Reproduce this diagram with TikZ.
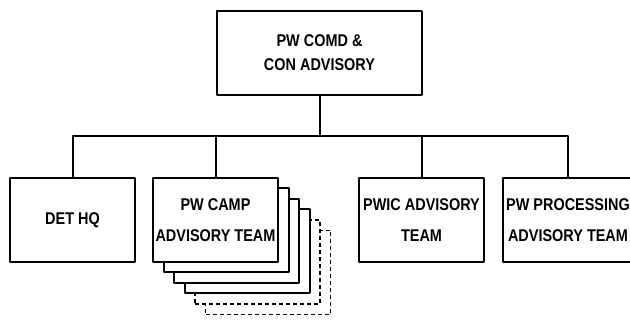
\documentclass[tikz,border=0pt]{standalone}
\usepackage{fontspec}
\setmainfont{Liberation Sans}[FakeStretch=0.85]
\begin{document}
\begin{tikzpicture}[x=1pt,y=-1pt,
  line width=2pt, line join=round,
  box/.style={draw, fill=white, minimum width=125pt, minimum height=84pt,
    inner sep=0pt, align=center, font=\fontsize{17}{31}\selectfont\bfseries},
  backbox/.style={draw, fill=white, minimum width=125pt, minimum height=84pt, inner sep=0pt},
  ghostbox/.style={backbox, line width=1.8pt, dash pattern=on 4pt off 3pt}]
\useasboundingbox (0,0) rectangle (630,320);

% top level
\node[box, minimum width=205pt, font=\fontsize{17}{24}\selectfont\bfseries] (top) at (319.5,53)
  {PW COMD \&\\CON ADVISORY};

% stacked camp teams, drawn back to front
\node[ghostbox] (camp6) at (215.5+52.5,220+52.5) {};
\node[ghostbox] (camp5) at (215.5+42,220+42) {};
\node[backbox] (camp4) at (215.5+31.5,220+31.5) {};
\node[backbox] (camp3) at (215.5+21,220+21) {};
\node[backbox] (camp2) at (215.5+10.5,220+10.5) {};

% second level
\node[box] (det)  at (72.5,220)  {DET HQ};
\node[box] (camp) at (215.5,220) {PW CAMP\\ADVISORY TEAM};
\node[box] (pwic) at (421.5,220) {PWIC ADVISORY\\TEAM};
\node[box, minimum width=130pt] (proc) at (568,220) {PW PROCESSING\\ADVISORY TEAM};

% connectors
\coordinate (bus) at (0,136);
\draw (top.south) -- (top.south |- bus);
\draw (det.north) -- (det.north |- bus) -- (proc.north |- bus) -- (proc.north);
\draw (camp.north) -- (camp.north |- bus);
\draw (pwic.north) -- (pwic.north |- bus);
\end{tikzpicture}
\end{document}
